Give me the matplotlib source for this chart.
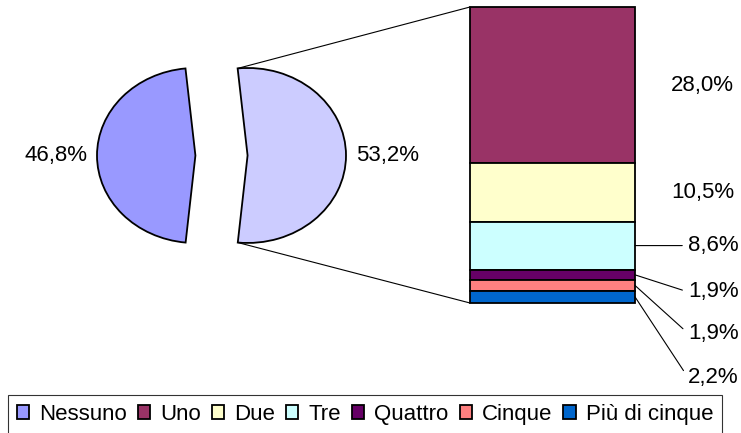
import matplotlib
matplotlib.use("Agg")
import matplotlib.pyplot as plt
from matplotlib.patches import ConnectionPatch
import numpy as np

plt.rcParams['font.family'] = ['Liberation Sans', 'DejaVu Sans']

# Dati: torta principale e dettaglio della fetta "altri"
pie_labels = ["Nessuno", "Altri"]
pie_values = [46.8, 53.2]
pie_colors = ["#9999FF", "#CCCCFF"]

bar_labels = ["Uno", "Due", "Tre", "Quattro", "Cinque", "Più di cinque"]
bar_values = [28.0, 10.5, 8.6, 1.9, 1.9, 2.2]
bar_colors = ["#993366", "#FFFFCC", "#CCFFFF", "#660066", "#FF8080", "#0066CC"]

W, H = 741, 433
FS = 16


def fmt(v):
    return f"{v:.1f}%".replace(".", ",")


def px_axes(x0, y0, x1, y1):
    # rettangolo in pixel (origine in alto a sinistra) -> frazioni della figura
    return [x0 / W, 1 - y1 / H, (x1 - x0) / W, (y1 - y0) / H]


fig = plt.figure(figsize=(W / 100, H / 100), dpi=100)

# --- torta ---
ax_pie = fig.add_axes(px_axes(97, 68, 346, 243))
wedges, texts = ax_pie.pie(pie_values, explode=[0, 0.53], startangle=95.8,
                           colors=pie_colors, labels=[fmt(v) for v in pie_values],
                           labeldistance=1.1,
                           wedgeprops=dict(edgecolor="black", linewidth=1.3),
                           textprops=dict(fontsize=FS))
ax_pie.set_aspect("auto")
ax_pie.set_xlim(-1, 1.53)
ax_pie.set_ylim(-1, 1)
for w in wedges:
    w.set_clip_on(False)

# --- barra in pila ---
ax_bar = fig.add_axes(px_axes(470, 7, 635, 303))
total = sum(bar_values)
bars = []
for i, (v, c, lab) in enumerate(zip(bar_values, bar_colors, bar_labels)):
    bottom = sum(bar_values[i + 1:])
    b = ax_bar.bar(0, v, bottom=bottom, width=1, color=c, edgecolor="black",
                   linewidth=1.3, label=lab)
    bars.append(b)
ax_bar.set_xlim(-0.5, 0.5)
ax_bar.set_ylim(0, total)
ax_bar.axis("off")
for b in bars:
    for p in b:
        p.set_clip_on(False)

# etichette della barra (le piccole scendono sotto, con linea guida)
label_x = [0.72, 0.72, 0.82, 0.82, 0.82, 0.82]
label_y = [None, None, None, 2.0, -5.4, -13.3]
leader = [False, False, True, True, True, True]
for i, v in enumerate(bar_values):
    centre = sum(bar_values[i + 1:]) + v / 2
    ty = centre if label_y[i] is None else label_y[i]
    props = None
    if leader[i]:
        props = dict(arrowstyle="-", color="black", lw=0.8,
                     shrinkA=2, shrinkB=0, relpos=(0, 0.5))
    ax_bar.annotate(fmt(v), xy=(0.5, centre), xytext=(label_x[i], ty),
                    textcoords="data", ha="left", va="center", fontsize=FS,
                    arrowprops=props, annotation_clip=False)

# linee di collegamento torta -> barra
w2 = wedges[1]
cx, cy = w2.center
for ang, yb in [(w2.theta2, total), (w2.theta1, 0)]:
    pa = (cx + w2.r * np.cos(np.radians(ang)), cy + w2.r * np.sin(np.radians(ang)))
    con = ConnectionPatch(xyA=pa, coordsA=ax_pie.transData,
                          xyB=(-0.5, yb), coordsB=ax_bar.transData,
                          color="black", lw=0.8)
    fig.add_artist(con)

# legenda
handles = [wedges[0]] + [b[0] for b in bars]
labels = [pie_labels[0]] + bar_labels
leg = fig.legend(handles, labels, loc="upper left", bbox_to_anchor=(8 / W, 1 - 395 / H),
                 ncol=7, fontsize=FS, frameon=True, fancybox=False,
                 edgecolor="black", borderaxespad=0, handlelength=0.55,
                 handleheight=0.55, handletextpad=0.45, columnspacing=0.5,
                 borderpad=0.4)
leg.get_frame().set_linewidth(0.8)

fig.savefig("out.png", dpi=100, facecolor="white")
